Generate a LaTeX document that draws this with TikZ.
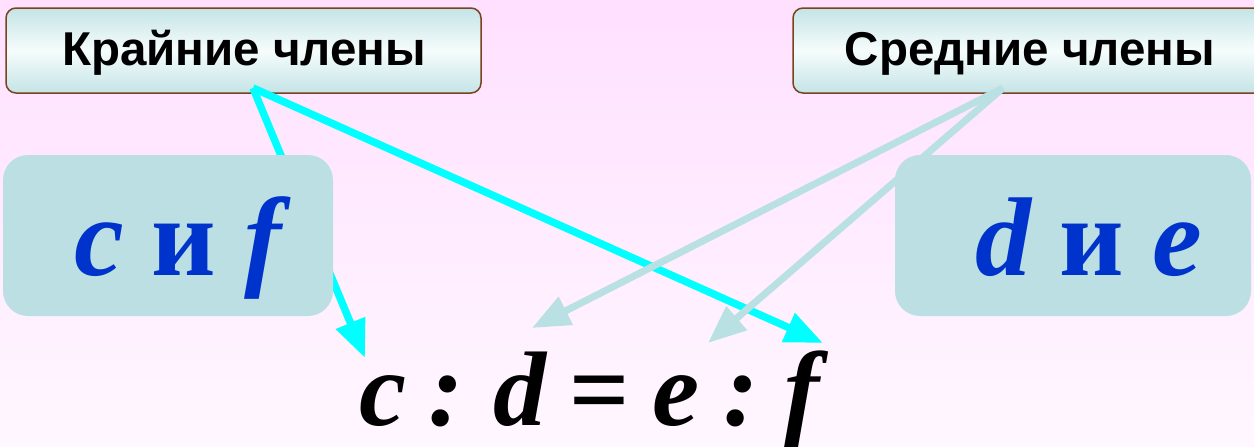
\documentclass[tikz,border=0pt]{standalone}
\usepackage{fontspec}
\setmainfont{Liberation Serif}
\newfontfamily\labfont{Liberation Sans}
\usetikzlibrary{arrows.meta}
\definecolor{bgtop}{RGB}{255,224,255}
\definecolor{bgbot}{RGB}{255,247,255}
\definecolor{lbledge}{RGB}{122,66,30}
\definecolor{lbldark}{RGB}{196,228,230}
\definecolor{lbllight}{RGB}{246,252,252}
\definecolor{boxfill}{RGB}{187,223,226}
\definecolor{lettblue}{RGB}{0,51,204}
\definecolor{paleline}{RGB}{185,224,227}
\definecolor{brightline}{RGB}{0,255,255}
\tikzset{
  lblbox/.style={draw=lbledge, line width=1.5pt, rounded corners=10pt,
    top color=lbldark, bottom color=lbldark, middle color=lbllight},
  lbltext/.style={font=\labfont\bfseries\fontsize{47.5}{50}\selectfont, inner sep=0pt, anchor=base},
  letterbox/.style={fill=boxfill, rounded corners=25pt},
  lettext/.style={font=\fontsize{112}{120}\selectfont\bfseries, text=lettblue, inner sep=0pt, anchor=base},
  formtext/.style={font=\fontsize{106}{120}\selectfont\bfseries\itshape, inner sep=0pt, anchor=base},
  formsym/.style={font=\fontsize{106}{120}\selectfont\bfseries, inner sep=0pt, anchor=base},
  brightarrow/.style={draw=brightline, line width=7.5pt, -{Triangle[length=38pt,width=30pt]}},
  palearrow/.style={draw=paleline, line width=7pt, -{Triangle[length=38pt,width=30pt]}}
}
\begin{document}
\begin{tikzpicture}[x=1pt,y=-1pt]
\useasboundingbox (0,0) rectangle (1254,447);
\clip (0,0) rectangle (1254,447);
\shade[top color=bgtop, bottom color=bgbot] (0,0) rectangle (1254,447);
% label boxes
\path[lblbox] (6,8) rectangle (481,93);
\node[lbltext] (krai) at (244,65) {Крайние члены};
\path[lblbox] (793,8) rectangle (1265,93);
\node[lbltext] (sred) at (1030,65) {Средние члены};
% formula
\node[formtext] (fc) at (383,425) {c};
\node[formtext] (fcol1) at (446,425) {:};
\node[formtext] (fd) at (520,425) {d};
\node[formsym] (feq) at (600,425) {=};
\node[formtext] (fe) at (676,425) {e};
\node[formtext] (fcol2) at (741,425) {:};
\node[formtext] (ff) at (802,425) {f};
% arrow points
\coordinate (ks) at (253,88);
\coordinate (ss) at (1003,88);
\coordinate (tc) at (365,358);
\coordinate (tf) at (823,343);
\coordinate (td) at (532,328);
\coordinate (te) at (708,343);
\draw[brightarrow] (ks) -- (tc);
\draw[brightarrow] (ks) -- (tf);
\draw[palearrow] (ss) -- (td);
\draw[palearrow] (ss) -- (te);
% letter boxes
\path[letterbox] (3,155) rectangle (333,316);
\node[lettext] (cf) at (178,275) {\itshape c \upshape и \itshape f};
\path[letterbox] (895,155) rectangle (1251,316);
\node[lettext] (de) at (1089,275) {\itshape d \upshape и \itshape e};
\end{tikzpicture}
\end{document}
